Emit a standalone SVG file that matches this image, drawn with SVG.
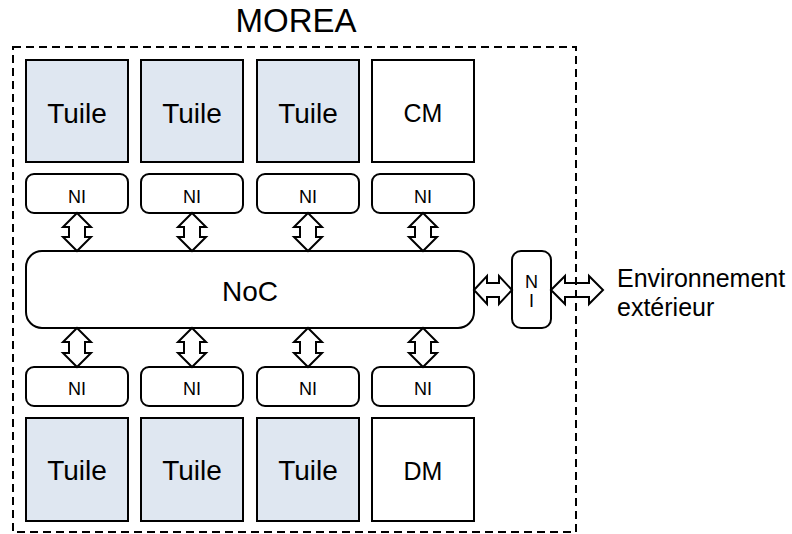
<svg xmlns="http://www.w3.org/2000/svg" width="792" height="534" viewBox="0 0 792 534">
<style>
text{font-family:"Liberation Sans",Arial,sans-serif;fill:#000;text-anchor:middle}
.tile{fill:#dfe7f1;stroke:#000;stroke-width:2}
.mem{fill:#fff;stroke:#000;stroke-width:2}
.ni{fill:#fff;stroke:#000;stroke-width:2}
.arr{fill:none;stroke:#000;stroke-width:2;stroke-linejoin:miter}
.big{font-size:28px}
.mid{font-size:25px}
.sm{font-size:18px}
</style>
<rect width="792" height="534" fill="#fff"/>
<g id="morea">
<rect x="13" y="47" width="563" height="485" fill="none" stroke="#000" stroke-width="2" stroke-dasharray="8,5"/>
<text x="296" y="31.5" style="font-size:33px">MOREA</text>
</g>
<g id="tuile-t1"><rect class="tile" x="26" y="60" width="102" height="102"/><text class="big" x="77" y="122.5">Tuile</text></g>
<g id="tuile-t2"><rect class="tile" x="141" y="60" width="102" height="102"/><text class="big" x="192" y="122.5">Tuile</text></g>
<g id="tuile-t3"><rect class="tile" x="257" y="60" width="102" height="102"/><text class="big" x="308" y="122.5">Tuile</text></g>
<g id="cm"><rect class="mem" x="372" y="60" width="102" height="102"/><text class="mid" x="423" y="121.5">CM</text></g>
<g id="ni-t1"><rect class="ni" x="26" y="174" width="102" height="39" rx="8"/><text class="sm" x="77" y="203.3">NI</text></g>
<g id="ni-t2"><rect class="ni" x="141" y="174" width="102" height="39" rx="8"/><text class="sm" x="192" y="203.3">NI</text></g>
<g id="ni-t3"><rect class="ni" x="257" y="174" width="102" height="39" rx="8"/><text class="sm" x="308" y="203.3">NI</text></g>
<g id="ni-t4"><rect class="ni" x="372" y="174" width="102" height="39" rx="8"/><text class="sm" x="423" y="203.3">NI</text></g>
<g id="noc"><rect class="ni" x="26" y="251" width="448" height="77" rx="16"/><text class="big" x="250" y="300.7">NoC</text></g>
<g id="ni-ext"><rect class="ni" x="512" y="251" width="39" height="77" rx="9"/><text class="sm" x="531.5" y="288">N</text><text class="sm" x="531.5" y="307">I</text></g>
<g id="ni-b1"><rect class="ni" x="26" y="367" width="102" height="39" rx="8"/><text class="sm" x="77" y="394.5">NI</text></g>
<g id="ni-b2"><rect class="ni" x="141" y="367" width="102" height="39" rx="8"/><text class="sm" x="192" y="394.5">NI</text></g>
<g id="ni-b3"><rect class="ni" x="257" y="367" width="102" height="39" rx="8"/><text class="sm" x="308" y="394.5">NI</text></g>
<g id="ni-b4"><rect class="ni" x="372" y="367" width="102" height="39" rx="8"/><text class="sm" x="423" y="394.5">NI</text></g>
<g id="tuile-b1"><rect class="tile" x="26" y="418" width="102" height="103"/><text class="big" x="77" y="480">Tuile</text></g>
<g id="tuile-b2"><rect class="tile" x="141" y="418" width="102" height="103"/><text class="big" x="192" y="480">Tuile</text></g>
<g id="tuile-b3"><rect class="tile" x="257" y="418" width="102" height="103"/><text class="big" x="308" y="480">Tuile</text></g>
<g id="dm"><rect class="mem" x="372" y="418" width="102" height="103"/><text class="mid" x="423" y="480">DM</text></g>
<g id="ext"><text x="617" y="287" style="font-size:25px;text-anchor:start">Environnement</text><text x="617" y="316" style="font-size:25px;text-anchor:start">extérieur</text></g>
<g id="connectors">
<path class="arr" d="M77,213 L91,227 L85,227 L85,237 L91,237 L77,251 L63,237 L69,237 L69,227 L63,227 Z"/>
<path class="arr" d="M192,213 L206,227 L200,227 L200,237 L206,237 L192,251 L178,237 L184,237 L184,227 L178,227 Z"/>
<path class="arr" d="M308,213 L322,227 L316,227 L316,237 L322,237 L308,251 L294,237 L300,237 L300,227 L294,227 Z"/>
<path class="arr" d="M423,213 L437,227 L431,227 L431,237 L437,237 L423,251 L409,237 L415,237 L415,227 L409,227 Z"/>
<path class="arr" d="M77,328 L91,342 L85,342 L85,353 L91,353 L77,367 L63,353 L69,353 L69,342 L63,342 Z"/>
<path class="arr" d="M192,328 L206,342 L200,342 L200,353 L206,353 L192,367 L178,353 L184,353 L184,342 L178,342 Z"/>
<path class="arr" d="M308,328 L322,342 L316,342 L316,353 L322,353 L308,367 L294,353 L300,353 L300,342 L294,342 Z"/>
<path class="arr" d="M423,328 L437,342 L431,342 L431,353 L437,353 L423,367 L409,353 L415,353 L415,342 L409,342 Z"/>
<path class="arr" d="M474,290 L487,276 L487,283 L499,283 L499,276 L512,290 L499,304 L499,297 L487,297 L487,304 Z"/>
<path class="arr" d="M551,290 L565,276 L565,283 L589,283 L589,276 L603,290 L589,304 L589,297 L565,297 L565,304 Z"/>
</g>
</svg>
